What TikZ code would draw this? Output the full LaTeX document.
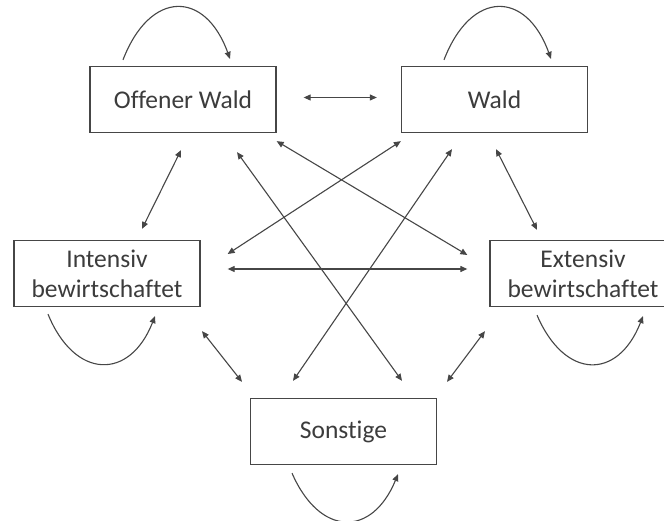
\documentclass[tikz,border=0pt]{standalone}
\usepackage{fontspec}
\setmainfont[Ligatures={NoCommon}]{Carlito}
\usetikzlibrary{arrows.meta,calc}
\definecolor{linec}{RGB}{70,70,70}
\definecolor{txtc}{RGB}{60,60,60}
\begin{document}
\begin{tikzpicture}[x=1pt,y=-1pt,
  box/.style={draw=linec, line width=1.3pt, minimum width=186pt, minimum height=66pt, inner sep=0pt, align=center, text=txtc, font=\fontsize{25.5}{30}\selectfont},
  conn/.style={draw=linec, line width=1.1pt, {Triangle[length=7pt,width=6pt]}-{Triangle[length=7pt,width=6pt]}},
  selfloop/.style={draw=linec, line width=1.1pt, -{Triangle[length=7pt,width=6pt]}}
]
\useasboundingbox (0,0) rectangle (664,521);
\clip (0,0) rectangle (664,521);
\fill[white] (0,0) rectangle (664,521);

\node[box] (ow) at (183,99.5) {Offener Wald};
\node[box] (wd) at (494.5,99.5) {Wald};
\node[box] (ib) at (107,273.5) {Intensiv\\bewirtschaftet};
\node[box] (eb) at (583,273.5) {Extensiv\\bewirtschaftet};
\node[box] (so) at (343.5,431.5) {Sonstige};

% connectors
\draw[conn] ($(ow.east)+(27,-2)$) -- ($(wd.west)+(-24,-2)$);
\draw[conn] ($(ow.south)+(-2,17)$) -- ($(ib.north)+(35,-11)$);
\draw[conn] ($(ow.south east)+(0,8)$) -- ($(eb.west)+(-22,-18.5)$);
\draw[conn] ($(ow.south)+(54,19)$) -- ($(so.north)+(58.5,-17)$);
\draw[conn] ($(wd.south west)+(0,8)$) -- ($(ib.east)+(27,-19.5)$);
\draw[conn] ($(wd.south)+(-42.5,16)$) -- ($(so.north)+(-50.5,-17)$);
\draw[conn] ($(wd.south)+(1.5,16)$) -- ($(eb.north)+(-46,-10)$);
\draw[conn] ($(ib.east)+(27,-4.5)$) -- ($(eb.west)+(-22,-4.5)$);
\draw[conn] ($(ib.south)+(95,24)$) -- ($(so.north)+(-101.5,-16)$);
\draw[conn] ($(eb.south)+(-98,24)$) -- ($(so.north)+(103.5,-16)$);

% self loops
\draw[selfloop] ($(ow.north)+(-60,-6)$) .. controls ($(ow.north)+(-33,-76)$) and ($(ow.north)+(22,-76)$) .. ($(ow.north)+(47,-7)$);
\draw[selfloop] ($(wd.north)+(-50.5,-6)$) .. controls ($(wd.north)+(-23.5,-76)$) and ($(wd.north)+(31.5,-76)$) .. ($(wd.north)+(56.5,-7)$);
\draw[selfloop] ($(ib.south)+(-59,7)$) .. controls ($(ib.south)+(-32,73)$) and ($(ib.south)+(23,73)$) .. ($(ib.south)+(48,9)$);
\draw[selfloop] ($(eb.south)+(-46,8)$) .. controls ($(eb.south)+(-18,73)$) and ($(eb.south)+(35,73)$) .. ($(eb.south)+(60,9)$);
\draw[selfloop] ($(so.south)+(-51.5,8)$) .. controls ($(so.south)+(-23.5,72)$) and ($(so.south)+(28.5,72)$) .. ($(so.south)+(54.5,9)$);
\end{tikzpicture}
\end{document}
